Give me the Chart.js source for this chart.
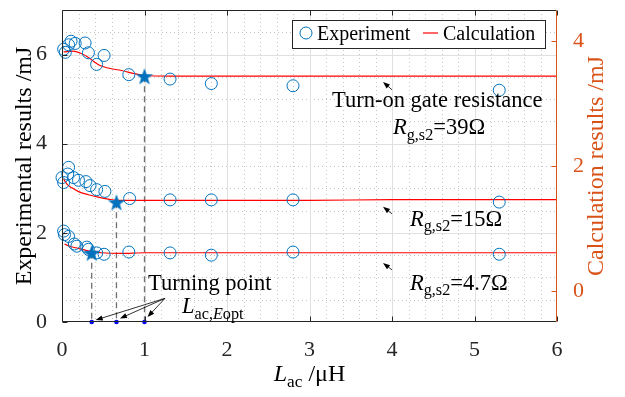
<!DOCTYPE html>
<html>
<head>
<meta charset="utf-8">
<script src="https://cdn.jsdelivr.net/npm/chart.js@4.4.0/dist/chart.umd.min.js"></script>
<style>
html, body { margin: 0; padding: 0; background: #fff; }
</style>
</head>
<body>
<canvas id="lacChart" width="625" height="397"></canvas>
<script>
// tick labels
var xTicks = [0, 1, 2, 3, 4, 5, 6];
var leftTicks = [0, 2, 4, 6];
var rightTicks = [0, 2, 4];

// experiment (left axis, mJ)
var exp39X = [0.02, 0.04, 0.08, 0.11, 0.16, 0.28, 0.32, 0.42, 0.51, 0.81, 1.31, 1.81, 2.8, 5.3];
var exp39Y = [6.12, 6.05, 6.22, 6.30, 6.25, 6.26, 6.04, 5.78, 5.98, 5.55, 5.45, 5.35, 5.30, 5.20];
var exp15X = [0.0, 0.02, 0.07, 0.08, 0.14, 0.2, 0.29, 0.34, 0.42, 0.52, 0.82, 1.31, 1.81, 2.8, 5.3];
var exp15Y = [3.24, 3.13, 3.32, 3.47, 3.24, 3.18, 3.15, 3.06, 2.97, 2.93, 2.77, 2.74, 2.74, 2.74, 2.69];
var exp47X = [0.02, 0.03, 0.08, 0.15, 0.18, 0.3, 0.32, 0.42, 0.51, 0.81, 1.31, 1.81, 2.8, 5.3];
var exp47Y = [2.04, 1.96, 1.92, 1.75, 1.70, 1.68, 1.63, 1.55, 1.52, 1.57, 1.55, 1.50, 1.57, 1.52];

// calculation (right axis, mJ)
var calc39X = [0.02, 0.14, 0.22, 0.32, 0.40, 0.46, 0.56, 0.72, 0.88, 1.0, 1.3, 2, 3, 4, 5, 6];
var calc39Y = [3.83, 3.84, 3.81, 3.74, 3.66, 3.61, 3.57, 3.53, 3.48, 3.45, 3.44, 3.44, 3.44, 3.44, 3.44, 3.44];
var calc15X = [0.02, 0.06, 0.12, 0.2, 0.32, 0.44, 0.56, 0.66, 0.9, 1.5, 2, 3, 4, 5, 6];
var calc15Y = [1.79, 1.71, 1.65, 1.59, 1.54, 1.50, 1.47, 1.45, 1.45, 1.45, 1.45, 1.45, 1.46, 1.46, 1.46];
var calc47X = [0.03, 0.1, 0.2, 0.32, 0.48, 0.72, 1, 2, 3, 4, 5, 6];
var calc47Y = [0.75, 0.71, 0.68, 0.64, 0.61, 0.60, 0.61, 0.61, 0.61, 0.61, 0.61, 0.61];

// turning points (x in uH, y on right axis)
var turnX = [1.0, 0.66, 0.36];
var turnY = [3.44, 1.42, 0.61];

var BLUE = '#0072BD';
var ORANGE = '#D95319';
var INK = '#262626';
var SERIF = "'Liberation Serif', 'Times New Roman', serif";
var Y2MIN = -0.5;
var NOTE = 22.5; // annotation font size

function pts(xs, ys) {
	var out = [];
	for (var i = 0; i < xs.length; i++) out.push({x: xs[i], y: ys[i]});
	return out;
}

// filled pentagram marker
function makeStar(size, color) {
	var c = document.createElement('canvas');
	c.width = size; c.height = size;
	var g = c.getContext('2d');
	var r = size / 2, ri = r * 0.4;
	g.beginPath();
	for (var i = 0; i < 10; i++) {
		var a = -Math.PI / 2 + i * Math.PI / 5;
		var rr = (i % 2) ? ri : r;
		g.lineTo(r + rr * Math.cos(a), r + 1 + rr * Math.sin(a));
	}
	g.closePath();
	g.fillStyle = color;
	g.fill();
	return c;
}
var starImg = makeStar(18, BLUE);

function expSet(xs, ys, label) {
	return {type: 'scatter', label: label, data: pts(xs, ys), yAxisID: 'y', order: 2, clip: false,
		pointStyle: 'circle', pointRadius: 6, pointBorderWidth: 1, borderColor: BLUE,
		backgroundColor: 'rgba(0,0,0,0)', showLine: false};
}
function calcSet(xs, ys, label) {
	return {type: 'line', label: label, data: pts(xs, ys), yAxisID: 'y2', order: 3,
		borderColor: '#FF0000', borderWidth: 1.2, pointRadius: 0, cubicInterpolationMode: 'monotone', fill: false};
}
function dropSet(i) {
	return {type: 'line', data: [{x: turnX[i], y: turnY[i]}, {x: turnX[i], y: Y2MIN}], yAxisID: 'y2', order: 4,
		borderColor: '#707070', borderWidth: 1.3, borderDash: [6, 4], pointRadius: 0, fill: false};
}

var datasets = [
	expSet(exp39X, exp39Y, 'Experiment'),
	expSet(exp15X, exp15Y, 'Experiment'),
	expSet(exp47X, exp47Y, 'Experiment'),
	calcSet(calc39X, calc39Y, 'Calculation'),
	calcSet(calc15X, calc15Y, 'Calculation'),
	calcSet(calc47X, calc47Y, 'Calculation'),
	dropSet(0), dropSet(1), dropSet(2),
	{type: 'scatter', label: 'turning', data: pts(turnX, turnY), yAxisID: 'y2', order: 0, clip: false,
		pointStyle: starImg, pointRadius: 9},
	{type: 'scatter', label: 'turningAxis', data: pts(turnX, turnX.map(function() { return 0; })), yAxisID: 'y', order: 0, clip: false,
		pointStyle: 'circle', pointRadius: 2.3, borderWidth: 0, backgroundColor: '#0000FF'}
];

// text helpers: parts = [[text, style]] style: '' | 'i' | 's' | 'si'
function richWidth(ctx, parts, size) {
	var w = 0;
	parts.forEach(function(p) {
		var sub = p[1].indexOf('s') >= 0, it = p[1].indexOf('i') >= 0;
		ctx.font = (it ? 'italic ' : '') + (sub ? size * 0.72 : size) + 'px ' + SERIF;
		w += ctx.measureText(p[0]).width;
	});
	return w;
}
function richText(ctx, parts, x, y, size, color, align) {
	if (align === 'center') x -= richWidth(ctx, parts, size) / 2;
	ctx.fillStyle = color;
	ctx.textBaseline = 'alphabetic';
	ctx.textAlign = 'left';
	parts.forEach(function(p) {
		var sub = p[1].indexOf('s') >= 0, it = p[1].indexOf('i') >= 0;
		ctx.font = (it ? 'italic ' : '') + (sub ? size * 0.72 : size) + 'px ' + SERIF;
		ctx.fillText(p[0], x, y + (sub ? size * 0.26 : 0));
		x += ctx.measureText(p[0]).width;
	});
}
function arrow(ctx, x1, y1, x2, y2) {
	var a = Math.atan2(y2 - y1, x2 - x1), L = 7, W = 2.6;
	ctx.strokeStyle = '#000'; ctx.fillStyle = '#000'; ctx.lineWidth = 0.8;
	ctx.beginPath(); ctx.moveTo(x1, y1); ctx.lineTo(x2 - L * 0.8 * Math.cos(a), y2 - L * 0.8 * Math.sin(a)); ctx.stroke();
	ctx.beginPath();
	ctx.moveTo(x2, y2);
	ctx.lineTo(x2 - L * Math.cos(a) + W * Math.sin(a), y2 - L * Math.sin(a) - W * Math.cos(a));
	ctx.lineTo(x2 - L * Math.cos(a) - W * Math.sin(a), y2 - L * Math.sin(a) + W * Math.cos(a));
	ctx.closePath(); ctx.fill();
}

var figPlugin = {
	id: 'figPlugin',
	beforeDatasetsDraw: function(chart) {
		var ctx = chart.ctx, a = chart.chartArea, sx = chart.scales.x, sy = chart.scales.y;
		ctx.save();
		// minor grid, dotted
		ctx.strokeStyle = '#c4c4c4'; ctx.lineWidth = 1; ctx.setLineDash([1, 3]);
		for (var k = 1; k < 30; k++) {
			if (k % 5 === 0) continue;
			var px = Math.round(sx.getPixelForValue(k * 0.2)) + 0.5;
			ctx.beginPath(); ctx.moveTo(px, a.top); ctx.lineTo(px, a.bottom); ctx.stroke();
		}
		for (var j = 1; j < 14; j++) {
			if (j % 4 === 0) continue;
			var py = Math.round(sy.getPixelForValue(j * 0.5)) + 0.5;
			ctx.beginPath(); ctx.moveTo(a.left, py); ctx.lineTo(a.right, py); ctx.stroke();
		}
		// major grid
		ctx.setLineDash([]); ctx.strokeStyle = '#e0e0e0';
		xTicks.forEach(function(v) {
			if (v === 0 || v === 6) return;
			var px = Math.round(sx.getPixelForValue(v)) + 0.5;
			ctx.beginPath(); ctx.moveTo(px, a.top); ctx.lineTo(px, a.bottom); ctx.stroke();
		});
		leftTicks.forEach(function(v) {
			if (v === 0) return;
			var py = Math.round(sy.getPixelForValue(v)) + 0.5;
			ctx.beginPath(); ctx.moveTo(a.left, py); ctx.lineTo(a.right, py); ctx.stroke();
		});
		ctx.restore();
	},
	afterDatasetsDraw: function(chart) {
		var ctx = chart.ctx, a = chart.chartArea, sx = chart.scales.x, sy = chart.scales.y, sy2 = chart.scales.y2;
		var L = Math.round(a.left) + 0.5, R = Math.round(a.right) - 0.5, T = Math.round(a.top) + 0.5, B = Math.round(a.bottom) - 0.5;
		ctx.save();
		// frame and inward ticks
		ctx.lineWidth = 1; ctx.strokeStyle = INK;
		ctx.beginPath(); ctx.moveTo(R, T); ctx.lineTo(L, T); ctx.lineTo(L, B); ctx.lineTo(R, B); ctx.stroke();
		xTicks.forEach(function(v) {
			var px = Math.round(sx.getPixelForValue(v)) + 0.5;
			ctx.beginPath(); ctx.moveTo(px, B); ctx.lineTo(px, B - 5); ctx.moveTo(px, T); ctx.lineTo(px, T + 5); ctx.stroke();
		});
		leftTicks.forEach(function(v) {
			var py = Math.round(sy.getPixelForValue(v)) + 0.5;
			ctx.beginPath(); ctx.moveTo(L, py); ctx.lineTo(L + 5, py); ctx.stroke();
		});
		ctx.strokeStyle = ORANGE;
		ctx.beginPath(); ctx.moveTo(R, T); ctx.lineTo(R, B); ctx.stroke();
		rightTicks.forEach(function(v) {
			var py = Math.round(sy2.getPixelForValue(v)) + 0.5;
			ctx.beginPath(); ctx.moveTo(R, py); ctx.lineTo(R - 5, py); ctx.stroke();
		});

		// legend
		var lx = 292.5, ly = 20.5, lw = 253, lh = 28;
		ctx.fillStyle = '#fff'; ctx.fillRect(lx, ly, lw, lh);
		ctx.strokeStyle = INK; ctx.strokeRect(lx, ly, lw, lh);
		ctx.strokeStyle = BLUE; ctx.lineWidth = 1;
		ctx.beginPath(); ctx.arc(306, 33, 6, 0, Math.PI * 2); ctx.stroke();
		ctx.strokeStyle = '#FF0000'; ctx.lineWidth = 1.2;
		ctx.beginPath(); ctx.moveTo(423, 33); ctx.lineTo(438, 33); ctx.stroke();
		ctx.fillStyle = '#000'; ctx.font = '20px ' + SERIF; ctx.textBaseline = 'alphabetic'; ctx.textAlign = 'left';
		ctx.fillText(chart.data.datasets[0].label, 317, 40);
		ctx.fillText(chart.data.datasets[3].label, 443, 40);

		// annotations (anchored in data coordinates)
		function P(x, y) { return [sx.getPixelForValue(x), sy.getPixelForValue(y)]; }
		var p;
		p = P(3.273, 4.834); richText(ctx, [['Turn-on gate resistance', '']], p[0], p[1], NOTE, '#000');
		p = P(4.012, 4.216); richText(ctx, [['R', 'i'], ['g,s2', 's'], ['=39\u03A9', '']], p[0], p[1], NOTE, '#000');
		p = P(4.218, 2.163); richText(ctx, [['R', 'i'], ['g,s2', 's'], ['=15\u03A9', '']], p[0], p[1], NOTE, '#000');
		p = P(4.218, 0.728); richText(ctx, [['R', 'i'], ['g,s2', 's'], ['=4.7\u03A9', '']], p[0], p[1], NOTE, '#000');
		p = P(1.042, 0.728); richText(ctx, [['Turning point', '']], p[0], p[1], NOTE, '#000');
		p = P(1.455, 0.199); richText(ctx, [['L', 'i'], ['ac,', 's'], ['E', 'si'], ['opt', 's']], p[0], p[1], NOTE, '#000');

		var t1 = P(4.0, 5.21), h1 = P(3.891, 5.386); arrow(ctx, t1[0], t1[1], h1[0], h1[1]);
		var t2 = P(4.0, 2.428), h2 = P(3.891, 2.583); arrow(ctx, t2[0], t2[1], h2[0], h2[1]);
		var t3 = P(4.0, 1.170), h3 = P(3.891, 1.325); arrow(ctx, t3[0], t3[1], h3[0], h3[1]);
		var tp = P(1.248, 0.53);
		turnX.forEach(function(v, i) {
			var hx = sx.getPixelForValue(v) + 3 + i * 0.5, hy = a.bottom - 2 - (2 - i) * 1.5;
			arrow(ctx, tp[0], tp[1], hx, hy);
		});

		// axis titles
		ctx.save();
		ctx.translate(25, (a.top + a.bottom) / 2); ctx.rotate(-Math.PI / 2);
		ctx.font = '24px ' + SERIF; ctx.fillStyle = '#000'; ctx.textAlign = 'center'; ctx.textBaseline = 'middle';
		ctx.fillText('Experimental results /mJ', 0, 0);
		ctx.restore();
		ctx.save();
		ctx.translate(597, (a.top + a.bottom) / 2); ctx.rotate(-Math.PI / 2);
		ctx.font = '24px ' + SERIF; ctx.fillStyle = ORANGE; ctx.textAlign = 'center'; ctx.textBaseline = 'middle';
		ctx.fillText('Calculation results /mJ', 0, 0);
		ctx.restore();
		richText(ctx, [['L', 'i'], ['ac', 's'], [' /\u03BCH', '']], (a.left + a.right) / 2, 381, 24, '#000', 'center');
		ctx.restore();
	}
};

// vertical axes: pin width and drop the label overflow padding so the plot box stays fixed
function pinVertical(w) {
	return function(s) { s.width = w; s.paddingTop = 0; s.paddingBottom = 0; };
}

var ctx = document.getElementById('lacChart').getContext('2d');
var myChart = new Chart(ctx, {
	data: {datasets: datasets},
	options: {
		responsive: false,
		animation: false,
		devicePixelRatio: 1,
		layout: {padding: {top: 5, left: 0, right: 0, bottom: 0}},
		plugins: {legend: {display: false}, tooltip: {enabled: false}},
		scales: {
			x: {
				type: 'linear', position: 'bottom', min: 0, max: 6,
				afterBuildTicks: function(s) { s.ticks = xTicks.map(function(v) { return {value: v}; }); },
				afterFit: function(s) { s.height = 75; s.paddingLeft = 0; s.paddingRight = 0; },
				grid: {display: false}, border: {display: false},
				ticks: {color: INK, padding: 7, maxRotation: 0, font: {family: SERIF, size: 22}}
			},
			y: {
				type: 'linear', position: 'left', min: 0, max: 7,
				afterBuildTicks: function(s) { s.ticks = leftTicks.map(function(v) { return {value: v}; }); },
				afterFit: pinVertical(62),
				grid: {display: false}, border: {display: false},
				ticks: {color: INK, padding: 7, font: {family: SERIF, size: 22}}
			},
			y2: {
				type: 'linear', position: 'right', min: Y2MIN, max: 4.5,
				afterBuildTicks: function(s) { s.ticks = rightTicks.map(function(v) { return {value: v}; }); },
				afterFit: pinVertical(68),
				grid: {display: false}, border: {display: false},
				ticks: {color: ORANGE, padding: 8, font: {family: SERIF, size: 22}}
			}
		}
	},
	plugins: [figPlugin]
});
</script>
</body>
</html>
